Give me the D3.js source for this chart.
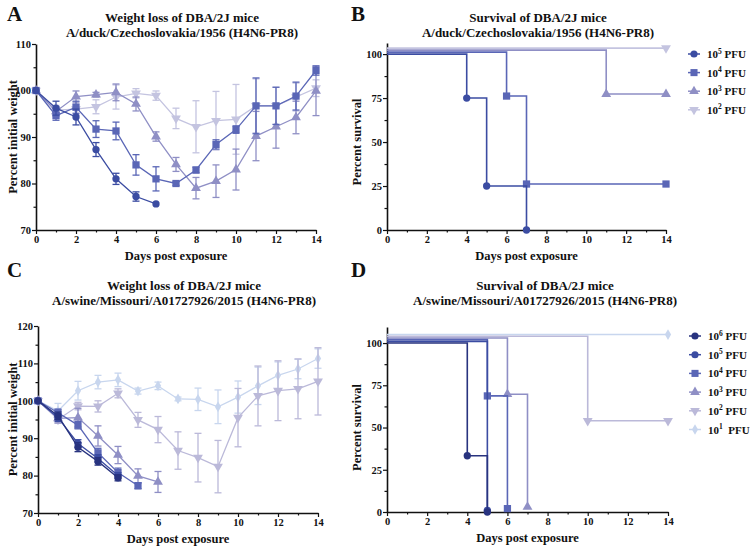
<!DOCTYPE html>
<html><head><meta charset="utf-8">
<script src="https://cdn.jsdelivr.net/npm/d3@7"></script>
<style>
body{margin:0;background:#fff}
svg{display:block}
text{font-family:"Liberation Serif","Times New Roman",serif;font-weight:bold;fill:#111}
</style>
</head><body>
<svg id="c" width="750" height="547"></svg>
<script>
// ---------------- DATA ----------------
const days = [0,1,2,3,4,5,6,7,8,9,10,11,12,13,14];
const xTickLabels = [0,2,4,6,8,10,12,14];
const yTicksA = [70,80,90,100,110];
const yTicksC = [70,80,90,100,110,120];
const yTicksSurv = [0,25,50,75,100];

// Panel A: weight (% initial), duck strain
const doseA = ["5","4","3","2"];
const wA5 = [100,96.2,94.3,87.3,81.0,77.2,75.6];
const eA5 = [0,1.5,1.7,1.5,1.2,1.0,0];
const wA4 = [100,94.6,96.4,91.7,91.3,84.0,81.0,80.0,82.9,88.4,91.6,96.7,96.7,98.8,104.3];
const eA4 = [0,1.0,1.3,1.8,1.9,2.2,2.6,0.4,0.6,1.0,0.8,6.0,4.0,3.0,1.0];
const wA3 = [100,95.5,98.7,99.1,99.6,97.1,90.1,84.1,79.0,80.5,83.0,90.2,92.2,94.2,99.9];
const eA3 = [0,1.0,1.2,0.5,1.8,1.5,1.0,1.5,2.3,3.5,4.4,5.3,4.6,3.5,5.3];
const wA2 = [100,95.8,96.0,96.5,98.6,99.4,98.9,94.0,92.2,93.5,93.8,96.7,96.7,98.6,100.5];
const eA2 = [0,1.0,1.2,1.5,2.6,1.0,1.0,2.2,5.6,6.3,7.5,5.8,4.0,3.0,1.8];

// Panel B: survival (%), duck strain (Kaplan-Meier steps)
const sB5d = [0,4,5,7],  sB5 = [100,75,25,0];
const sB4d = [0,6,7,14], sB4 = [100,75,25,25];
const sB3d = [0,11,14],  sB3 = [100,75,75];
const sB2d = [0,14],     sB2 = [100,100];

// Panel C: weight (% initial), swine strain
const doseC = ["6","5","4","3","2","1"];
const wC6 = [100,96.0,87.6,83.8,79.4];
const eC6 = [0,1.0,1.2,1.0,0.8];
const wC5 = [100,95.5,88.6,84.6,80.0];
const eC5 = [0,1.0,1.0,1.0,0.8];
const wC4 = [100,96.8,93.5,86.1,80.8,77.3];
const eC4 = [0,1.0,1.0,1.2,1.2,0.8];
const wC3 = [100,95.3,95.5,90.6,85.5,79.9,78.3];
const eC3 = [0,1.2,2.5,2.7,2.3,1.9,2.8];
const wC2 = [100,95.0,98.6,98.5,102.0,94.9,92.3,86.7,84.8,82.4,95.5,101.3,102.7,103.2,105.2];
const eC2 = [0,1.0,1.0,1.5,1.2,2.0,3.5,5.0,6.5,7.0,7.8,8.0,8.0,8.0,9.0];
const wC1 = [100,97.3,102.7,105.0,105.6,102.6,104.0,100.5,100.4,98.4,101.0,104.0,106.8,108.5,111.3];
const eC1 = [0,2.0,2.5,1.8,1.8,0.8,1.0,0.5,3.0,4.5,4.3,5.0,3.6,2.6,2.6];

// Panel D: survival (%), swine strain
const sD6d = [0,4,5],   sD6 = [100,33.3,0];
const sD5d = [0,5],     sD5 = [100,0];
const sD4d = [0,5,6],   sD4 = [100,66.7,0];
const sD3d = [0,6,7],   sD3 = [100,66.7,0];
const sD2d = [0,10,14], sD2 = [100,50,50];
const sD1d = [0,14],    sD1 = [100,100];

// ---------------- STYLE ----------------
const colA = ["#3b4ca2","#5a66b6","#8f8fc5","#c4c4e0"];
const symA = [d3.symbolCircle,d3.symbolSquare,d3.symbolTriangle,"down"];
const colC = ["#28337f","#3b4ca2","#5a66b6","#8f8fc5","#bbb9d9","#c8d6ee"];
const symC = [d3.symbolCircle,d3.symbolCircle,d3.symbolSquare,d3.symbolTriangle,"down",d3.symbolDiamond];

const svg = d3.select("#c");

function marker(g, type, cx, cy, color, size){
  let s = size || 42;
  let t = type, rot = 0;
  if (type === "down"){ t = d3.symbolTriangle; rot = 180; }
  if (t === d3.symbolSquare) s = s*1.25;
  if (t === d3.symbolDiamond) s = s*0.8;
  g.append("path").attr("d", d3.symbol().type(t).size(s)())
    .attr("transform", `translate(${cx},${cy}) rotate(${rot})`)
    .attr("fill", color);
}

function axes(g, x, y, yTicks, yMinor, xLabel, yLabel, yLabelX){
  const bottom = y.range()[0];
  const left = x.range()[0];
  // minor ticks
  g.append("g").attr("transform",`translate(0,${bottom})`)
    .call(d3.axisBottom(x).tickValues(d3.range(1,15,2)).tickSize(2.5).tickFormat("").tickSizeOuter(0))
    .call(a=>a.select(".domain").remove());
  g.append("g").attr("transform",`translate(${left},0)`)
    .call(d3.axisLeft(y).tickValues(yMinor).tickSize(2.5).tickFormat("").tickSizeOuter(0))
    .call(a=>a.select(".domain").remove());
  const xa = g.append("g").attr("transform",`translate(0,${bottom})`)
    .call(d3.axisBottom(x).tickValues(xTickLabels).tickSize(4).tickPadding(2).tickSizeOuter(0));
  const ya = g.append("g").attr("transform",`translate(${left},0)`)
    .call(d3.axisLeft(y).tickValues(yTicks).tickSize(4).tickPadding(1).tickSizeOuter(0));
  [xa,ya].forEach(a=>{
    a.select(".domain").attr("stroke","#111").attr("stroke-width",1.6);
    a.selectAll(".tick line").attr("stroke","#111").attr("stroke-width",1.3);
    a.selectAll(".tick text").style("font-family",'"Liberation Serif",serif').style("font-weight","bold").style("font-size","10.5px").attr("fill","#111");
  });
  g.selectAll(".tick line").attr("stroke","#111").attr("stroke-width",1.2);
  const xm = (x.range()[0]+x.range()[1])/2;
  g.append("text").attr("x",xm).attr("y",bottom+30).attr("text-anchor","middle").style("font-size","12.5px").text(xLabel);
  const ym = (y.range()[0]+y(y.domain()[0]+ (yTicks[yTicks.length-1]-yTicks[0])/2))/2;
  const yc = (y(yTicks[0])+y(yTicks[yTicks.length-1]))/2;
  g.append("text").attr("transform",`translate(${yLabelX},${yc}) rotate(-90)`).attr("text-anchor","middle").style("font-size","12.5px").text(yLabel);
}

function title(cx, y1, l1, l2){
  svg.append("text").attr("x",cx).attr("y",y1).attr("text-anchor","middle").style("font-size","13px").text(l1);
  svg.append("text").attr("x",cx).attr("y",y1+15).attr("text-anchor","middle").style("font-size","13px").text(l2);
}
function letter(x,y,t){
  svg.append("text").attr("x",x).attr("y",y).style("font-size","21px").text(t);
}

function weightPanel(x, y, series, errs, cols, syms){
  const g = svg.append("g");
  const line = d3.line().x((d,i)=>x(days[i])).y(d=>y(d));
  // draw lightest first
  for (let k = series.length-1; k >= 0; k--){
    const s = series[k], e = errs[k], c = cols[k];
    const eg = g.append("g").attr("stroke",c).attr("stroke-width",1.3);
    s.forEach((v,i)=>{
      if (!e[i]) return;
      const xx = x(days[i]);
      eg.append("line").attr("x1",xx).attr("x2",xx).attr("y1",y(v-e[i])).attr("y2",y(v+e[i]));
      [v-e[i], v+e[i]].forEach(w=>eg.append("line").attr("x1",xx-3.5).attr("x2",xx+3.5).attr("y1",y(w)).attr("y2",y(w)));
    });
    g.append("path").attr("d",line(s)).attr("fill","none").attr("stroke",c).attr("stroke-width",1.3);
    s.forEach((v,i)=>marker(g, syms[k], x(days[i]), y(v), c, 42));
  }
}

function survPanel(x, y, dd, vv, cols, syms, off){
  const g = svg.append("g");
  for (let k = dd.length-1; k >= 0; k--){
    const pts = dd[k].map((d,i)=>[x(d), y(vv[k][i]) - off*k]);
    const ln = d3.line().curve(d3.curveStepAfter);
    g.append("path").attr("d",ln(pts)).attr("fill","none").attr("stroke",cols[k]).attr("stroke-width",1.6);
    pts.forEach((p,i)=>{ if (i>0) marker(g, syms[k], p[0], p[1], cols[k], 42); });
  }
}

function legend(x0, y0, step, doses, cols, syms, extraSpace){
  const g = svg.append("g");
  doses.forEach((d,i)=>{
    const yy = y0 + i*step;
    g.append("line").attr("x1",x0-6).attr("x2",x0+6).attr("y1",yy).attr("y2",yy).attr("stroke",cols[i]).attr("stroke-width",1.5);
    marker(g, syms[i], x0, yy, cols[i], 40);
    const t = g.append("text").attr("x",x0+13).attr("y",yy+4).style("font-size","11px");
    t.append("tspan").text("10");
    t.append("tspan").attr("dy",-4.5).style("font-size","7.5px").text(d);
    t.append("tspan").attr("dy",4.5).text((extraSpace && d==="1" ? "\u00a0 " : " ") + "PFU");
  });
}

// ---------------- PANEL A ----------------
const xA = d3.scaleLinear().domain([0,14]).range([36,316]);
const yA = d3.scaleLinear().domain([70,110]).range([230,44]);
letter(7,21,"A");
title(182,22,"Weight loss of DBA/2J mice","A/duck/Czechoslovakia/1956 (H4N6-PR8)");
axes(svg.append("g"), xA, yA, yTicksA, [75,85,95,105], "Days post exposure", "Percent initial weight", 17);
weightPanel(xA, yA, [wA5,wA4,wA3,wA2], [eA5,eA4,eA3,eA2], colA, symA);

// ---------------- PANEL B ----------------
const xB = d3.scaleLinear().domain([0,14]).range([387,666]);
const yB = d3.scaleLinear().domain([0,106.3]).range([230,43]);
letter(351,21,"B");
title(538,22,"Survival of DBA/2J mice","A/duck/Czechoslovakia/1956 (H4N6-PR8)");
axes(svg.append("g"), xB, yB, yTicksSurv, [12.5,37.5,62.5,87.5], "Days post exposure", "Percent survival", 361);
survPanel(xB, yB, [sB5d,sB4d,sB3d,sB2d], [sB5,sB4,sB3,sB2], colA, symA, 2);
legend(694, 54, 18.6, doseA, colA, symA, false);

// ---------------- PANEL C ----------------
const xC = d3.scaleLinear().domain([0,14]).range([38,318]);
const yC = d3.scaleLinear().domain([70,120]).range([513,326]);
letter(7,277,"C");
title(184,290,"Weight loss of DBA/2J mice","A/swine/Missouri/A01727926/2015 (H4N6-PR8)");
axes(svg.append("g"), xC, yC, yTicksC, [75,85,95,105,115], "Days post exposure", "Percent initial weight", 17);
weightPanel(xC, yC, [wC6,wC5,wC4,wC3,wC2,wC1], [eC6,eC5,eC4,eC3,eC2,eC1], colC, symC);

// ---------------- PANEL D ----------------
const xD = d3.scaleLinear().domain([0,14]).range([387,668]);
const yD = d3.scaleLinear().domain([0,109.5]).range([512,327]);
letter(351,277,"D");
title(545,290,"Survival of DBA/2J mice","A/swine/Missouri/A01727926/2015 (H4N6-PR8)");
axes(svg.append("g"), xD, yD, yTicksSurv, [12.5,37.5,62.5,87.5], "Days post exposure", "Percent survival", 361);
survPanel(xD, yD, [sD6d,sD5d,sD4d,sD3d,sD2d,sD1d], [sD6,sD5,sD4,sD3,sD2,sD1], colC, symC, 1.7);
legend(695, 336, 18.7, doseC, colC, symC, true);
</script>
</body></html>
